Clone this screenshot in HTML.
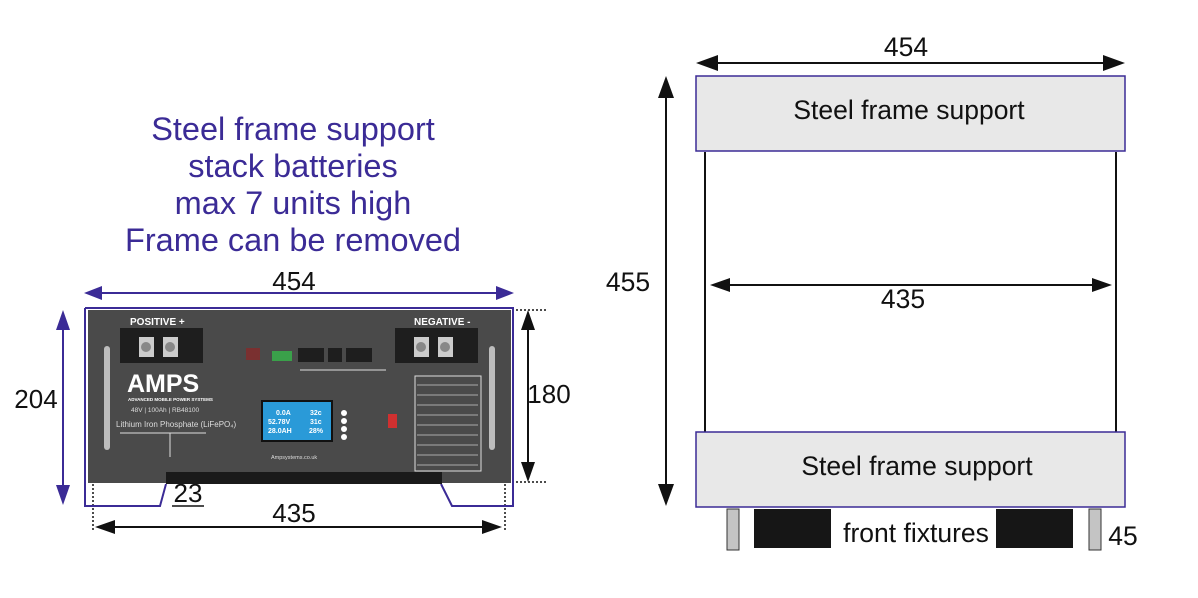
<!DOCTYPE html>
<html><head><meta charset="utf-8"><style>
html,body{margin:0;padding:0;background:#fff;}
svg{display:block;font-family:"Liberation Sans",Arial,sans-serif;}
</style></head><body>
<svg width="1198" height="598" viewBox="0 0 1198 598" xmlns="http://www.w3.org/2000/svg">
<!-- title -->
<g fill="#3b2b96" font-size="32.5" text-anchor="middle">
<text x="293" y="140">Steel frame support</text>
<text x="293" y="177">stack batteries</text>
<text x="293" y="214">max 7 units high</text>
<text x="293" y="251">Frame can be removed</text>
</g>
<!-- left dims -->
<g fill="#111" font-size="26" text-anchor="middle">
<text x="294" y="290">454</text>
<text x="36" y="408">204</text>
<text x="549" y="403">180</text>
<text x="294" y="522">435</text>
<text x="188" y="502">23</text>
</g>
<line x1="172" y1="506" x2="204" y2="506" stroke="#111" stroke-width="1.5"/>
<!-- purple arrows -->
<line x1="96" y1="293" x2="502" y2="293" stroke="#3b2b96" stroke-width="2"/>
<path d="M84,293 L102,286 L102,300z M514,293 L496,286 L496,300z" fill="#3b2b96"/>
<line x1="63" y1="320" x2="63" y2="494" stroke="#3b2b96" stroke-width="2"/>
<path d="M63,310 L56,330 L70,330z M63,505 L56,485 L70,485z" fill="#3b2b96"/>
<!-- black arrows -->
<line x1="528" y1="320" x2="528" y2="472" stroke="#111" stroke-width="2"/>
<path d="M528,310 L521,330 L535,330z M528,482 L521,462 L535,462z" fill="#111"/>
<line x1="105" y1="527" x2="492" y2="527" stroke="#111" stroke-width="2"/>
<path d="M95,527 L115,520 L115,534z M502,527 L482,520 L482,534z" fill="#111"/>
<g stroke="#111" stroke-width="1.5" stroke-dasharray="2,2">
<line x1="512" y1="310" x2="548" y2="310"/><line x1="512" y1="482" x2="548" y2="482"/>
<line x1="93" y1="484" x2="93" y2="530"/><line x1="505" y1="484" x2="505" y2="530"/>
</g>
<!-- battery -->
<rect x="88" y="310" width="423" height="173" fill="#4a4a4a"/>
<path d="M85,308 L513,308 L513,506 L452,506 L441,484 M85,308 L85,506 L160,506 L166,484" fill="none" stroke="#3b2b96" stroke-width="2"/>
<rect x="166" y="472" width="276" height="12" fill="#1a1a1a"/>
<rect x="104" y="346" width="6" height="104" rx="3" fill="#bdbdbd"/>
<rect x="489" y="346" width="6" height="104" rx="3" fill="#bdbdbd"/>
<g fill="#fff" font-size="10" font-weight="bold">
<text x="130" y="325">POSITIVE +</text><text x="414" y="325">NEGATIVE -</text>
</g>
<rect x="120" y="328" width="83" height="35" fill="#1e1e1e"/>
<rect x="395" y="328" width="83" height="35" fill="#1e1e1e"/>
<g fill="#ccc"><rect x="139" y="337" width="15" height="20"/><rect x="163" y="337" width="15" height="20"/>
<rect x="414" y="337" width="15" height="20"/><rect x="438" y="337" width="15" height="20"/></g>
<g fill="#888"><circle cx="146" cy="347" r="5"/><circle cx="170" cy="347" r="5"/><circle cx="421" cy="347" r="5"/><circle cx="445" cy="347" r="5"/></g>
<text x="127" y="392" fill="#fff" font-size="25" font-weight="bold">AMPS</text>
<text x="128" y="401" fill="#fff" font-size="4.5" font-weight="bold">ADVANCED MOBILE POWER SYSTEMS</text>
<text x="131" y="412" fill="#ddd" font-size="6.5">48V | 100Ah | RB48100</text>
<text x="116" y="427" fill="#ddd" font-size="8">Lithium Iron Phosphate (LiFePO₄)</text>
<line x1="120" y1="433" x2="206" y2="433" stroke="#ddd"/>
<line x1="170" y1="433" x2="170" y2="457" stroke="#ddd"/>
<rect x="246" y="348" width="14" height="12" fill="#7a3030"/>
<rect x="272" y="351" width="20" height="10" fill="#3aa04a"/>
<rect x="298" y="348" width="26" height="14" fill="#1e1e1e"/><rect x="328" y="348" width="14" height="14" fill="#1e1e1e"/><rect x="346" y="348" width="26" height="14" fill="#1e1e1e"/>
<line x1="300" y1="370" x2="386" y2="370" stroke="#ddd"/>
<rect x="261" y="400" width="72" height="42" fill="#111"/>
<rect x="263" y="402" width="68" height="38" fill="#2a9ad8"/>
<g fill="#fff" font-size="7" font-weight="bold"><text x="276" y="415">0.0A</text><text x="310" y="415">32c</text>
<text x="268" y="424">52.78V</text><text x="310" y="424">31c</text><text x="268" y="433">28.0AH</text><text x="309" y="433">28%</text></g>
<g fill="#fff"><circle cx="344" cy="413" r="3"/><circle cx="344" cy="421" r="3"/><circle cx="344" cy="429" r="3"/><circle cx="344" cy="437" r="3"/></g>
<text x="271" y="459" fill="#ddd" font-size="5.5">Ampsystems.co.uk</text>
<rect x="388" y="414" width="9" height="14" fill="#d03030"/>
<rect x="415" y="376" width="66" height="95" fill="none" stroke="#ddd"/>
<g stroke="#aaa"><line x1="417" y1="385" x2="478" y2="385"/><line x1="417" y1="395" x2="478" y2="395"/><line x1="417" y1="405" x2="478" y2="405"/><line x1="417" y1="415" x2="478" y2="415"/><line x1="417" y1="425" x2="478" y2="425"/><line x1="417" y1="435" x2="478" y2="435"/><line x1="417" y1="445" x2="478" y2="445"/><line x1="417" y1="455" x2="478" y2="455"/><line x1="417" y1="465" x2="478" y2="465"/></g>
<!-- right diagram -->
<line x1="705" y1="152" x2="705" y2="432" stroke="#111" stroke-width="2"/>
<line x1="1116" y1="152" x2="1116" y2="432" stroke="#111" stroke-width="2"/>
<rect x="696" y="76" width="429" height="75" fill="#e8e8e8" stroke="#3b2b96" stroke-width="1.5"/>
<rect x="696" y="432" width="429" height="75" fill="#e8e8e8" stroke="#3b2b96" stroke-width="1.5"/>
<g fill="#111" font-size="26.5" text-anchor="middle">
<text x="909" y="119">Steel frame support</text>
<text x="917" y="475">Steel frame support</text>
<text x="906" y="56">454</text>
<text x="628" y="291">455</text>
<text x="903" y="308">435</text>
<text x="916" y="542">front fixtures</text>
<text x="1123" y="545">45</text>
</g>
<line x1="710" y1="63" x2="1112" y2="63" stroke="#111" stroke-width="2"/>
<path d="M696,63 L718,55 L718,71z M1125,63 L1103,55 L1103,71z" fill="#111"/>
<line x1="666" y1="90" x2="666" y2="492" stroke="#111" stroke-width="2"/>
<path d="M666,76 L658,98 L674,98z M666,506 L658,484 L674,484z" fill="#111"/>
<line x1="722" y1="285" x2="1100" y2="285" stroke="#111" stroke-width="2"/>
<path d="M710,285 L730,278 L730,292z M1112,285 L1092,278 L1092,292z" fill="#111"/>
<rect x="727" y="509" width="12" height="41" fill="#c4c4c4" stroke="#333"/>
<rect x="1089" y="509" width="12" height="41" fill="#c4c4c4" stroke="#333"/>
<rect x="754" y="509" width="77" height="39" fill="#161616"/>
<rect x="996" y="509" width="77" height="39" fill="#161616"/>
</svg>
</body></html>
